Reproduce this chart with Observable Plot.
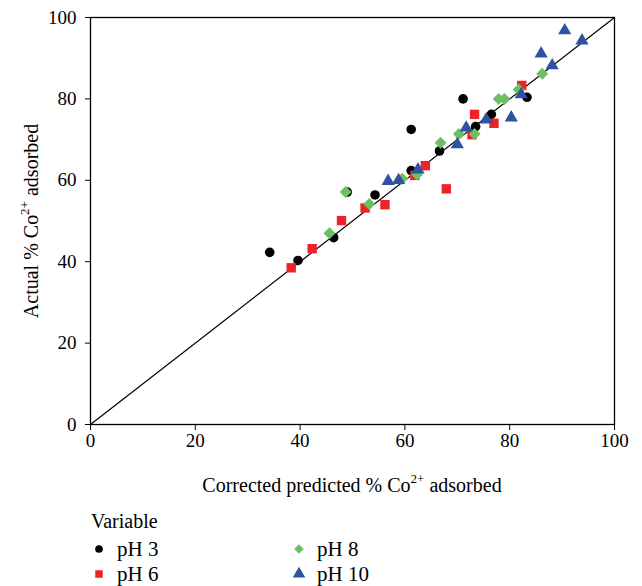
<!DOCTYPE html>
<html>
<head>
<meta charset="utf-8">
<script src="https://cdn.jsdelivr.net/npm/d3@7"></script>
<script src="https://cdn.jsdelivr.net/npm/@observablehq/plot@0.6"></script>
<style>
  body { margin: 0; background: #fff; }
  #chart svg { display: block; }
</style>
</head>
<body>
<div id="chart"></div>
<script>
// ---- data ----
const seriesNames = ["pH 3", "pH 6", "pH 8", "pH 10"];
const ph3X = [34.2, 39.6, 46.4, 49.0, 54.3, 61.2, 61.2, 66.6, 71.1, 73.5, 76.5, 83.3];
const ph3Y = [42.3, 40.3, 45.9, 57.1, 56.4, 62.4, 72.5, 67.2, 80.0, 73.2, 76.2, 80.4];
const ph6X = [38.3, 42.3, 47.9, 52.4, 56.2, 61.9, 63.9, 67.9, 72.8, 73.3, 77.0, 82.3];
const ph6Y = [38.5, 43.2, 50.1, 53.2, 54.0, 61.2, 63.6, 57.9, 71.2, 76.2, 74.0, 83.3];
const ph8X = [45.6, 48.7, 53.2, 59.5, 62.3, 66.8, 70.3, 73.3, 77.9, 79.0, 81.7, 86.2];
const ph8Y = [47.0, 57.1, 54.2, 60.4, 61.4, 69.2, 71.4, 71.4, 80.0, 80.0, 82.3, 86.2];
const ph10X = [56.8, 58.8, 62.5, 70.0, 71.7, 75.5, 80.3, 82.2, 86.0, 88.1, 90.5, 93.8];
const ph10Y = [59.8, 60.0, 62.6, 68.8, 72.9, 74.9, 75.4, 81.1, 91.1, 88.2, 96.8, 94.3];
const axisTicks = [0, 20, 40, 60, 80, 100];
const identityLine = [0, 100];

const colors = ["#000000", "#ee2229", "#6cbf63", "#2f52a2"];
const symbols = ["circle", "square", "diamond2", "triangle"];
const radii = [4.8, 5.3, 5.4, 4.9];

const allX = [ph3X, ph6X, ph8X, ph10X];
const allY = [ph3Y, ph6Y, ph8Y, ph10Y];
const series = seriesNames.map((name, i) =>
  allX[i].map((x, j) => ({ series: name, x, y: allY[i][j] })));

const FONT = "'Liberation Serif', 'DejaVu Serif', serif";

const plot = Plot.plot({
  width: 642,
  height: 500,
  marginLeft: 90,
  marginRight: 28,
  marginTop: 17,
  marginBottom: 76,
  x: { domain: [0, 100] },
  y: { domain: [0, 100] },
  style: { fontFamily: FONT, fontSize: "19px", color: "#000", background: "#fff" },
  marks: [
    Plot.frame({ stroke: "#000", strokeWidth: 1.3 }),
    Plot.axisX({ ticks: axisTicks, tickSize: 6, tickPadding: 3, label: null, fontSize: 19 }),
    Plot.axisY({ ticks: axisTicks, tickSize: 5, tickPadding: 9, label: null, fontSize: 19 }),
    Plot.line(identityLine, { x: d => d, y: d => d, stroke: "#000", strokeWidth: 1.2 }),
    ...series.map((data, i) =>
      Plot.dot(data, { x: "x", y: "y", symbol: () => symbols[i], fill: colors[i], stroke: "none", r: radii[i] })
    )
  ]
});

document.getElementById("chart").appendChild(plot);

// axis titles with superscripts
const svg = d3.select(plot);
function addTitle(g, parts) {
  const t = g.append("text")
    .attr("font-family", FONT).attr("font-size", 20).attr("fill", "#000")
    .attr("text-anchor", "middle");
  t.append("tspan").text(parts[0]);
  t.append("tspan").attr("font-size", 13).attr("dy", -9).text(parts[1]);
  t.append("tspan").attr("dy", 9).text(parts[2]);
  return t;
}
addTitle(svg.append("g").attr("transform", "translate(352,492)"),
  ["Corrected predicted % Co", "2+", " adsorbed"]);
addTitle(svg.append("g").attr("transform", "translate(38,221) rotate(-90)"),
  ["Actual % Co", "2+", " adsorbed"]);

// legend
const legend = d3.select("#chart").append("svg")
  .attr("width", 642).attr("height", 86)
  .style("display", "block");
legend.append("text").attr("x", 91).attr("y", 28)
  .attr("font-family", FONT).attr("font-size", 20).attr("fill", "#000").text("Variable");
const pos = [[99, 49], [99, 74], [299, 49], [299, 74]];
const symMap = { circle: d3.symbolCircle, square: d3.symbolSquare, diamond2: d3.symbolDiamond2, triangle: d3.symbolTriangle };
seriesNames.forEach((name, i) => {
  const [lx, ly] = pos[i];
  const s = i === 3 ? 0.95 : 0.8;
  legend.append("path")
    .attr("transform", `translate(${lx},${ly})`)
    .attr("d", d3.symbol(symMap[symbols[i]], Math.PI * (radii[i] * s) ** 2)())
    .attr("fill", colors[i]);
  legend.append("text").attr("x", lx + 18).attr("y", ly + 7)
    .attr("font-family", FONT).attr("font-size", 21).attr("fill", "#000").text(name);
});
</script>
</body>
</html>
